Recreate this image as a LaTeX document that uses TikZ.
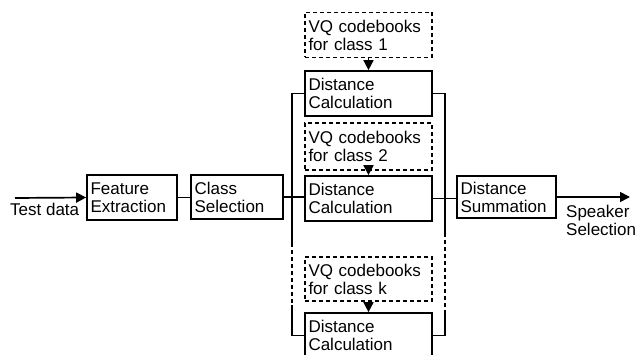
\documentclass[tikz,border=0pt]{standalone}
\usepackage{fontspec}
\setmainfont{Liberation Sans}
\usetikzlibrary{arrows.meta}
\begin{document}
\begin{tikzpicture}[x=1pt,y=-1pt,
  font=\fontsize{17pt}{18pt}\selectfont,
  box/.style={draw,line width=1.7pt,inner xsep=3.5pt,inner ysep=0pt,align=left},
  vqbox/.style={draw,line width=1.3pt,dash pattern=on 4pt off 3pt,inner xsep=3.5pt,inner ysep=0pt,align=left},
  wire/.style={line width=1.7pt},
  dwire/.style={line width=1.3pt,dash pattern=on 4pt off 3pt},
  arr/.style={line width=1.7pt,-{Triangle[length=10pt,width=10pt]}}]
\useasboundingbox (0,0) rectangle (635,355);
% boxes (center, width, height)
\node[box,minimum width=90pt,minimum height=45pt,text width=83pt] (FE) at (132,197.5) {Feature\\Extraction};
\node[box,minimum width=92pt,minimum height=44pt,text width=85pt] (CS) at (237,197) {Class\\Selection};
\node[vqbox,minimum width=127pt,minimum height=45pt,text width=120pt] (VQ1) at (368.5,35) {VQ codebooks\\for class 1};
\node[box,minimum width=127pt,minimum height=45pt,text width=120pt] (DC1) at (368.5,93.5) {Distance\\Calculation};
\node[vqbox,minimum width=127pt,minimum height=47pt,text width=120pt] (VQ2) at (368.5,146.5) {VQ codebooks\\for class 2};
\node[box,minimum width=127pt,minimum height=45pt,text width=120pt] (DC2) at (368.5,198.5) {Distance\\Calculation};
\node[vqbox,minimum width=127pt,minimum height=44pt,text width=120pt] (VQk) at (368.5,279) {VQ codebooks\\for class k};
\node[box,minimum width=127pt,minimum height=45pt,text width=120pt] (DCk) at (368.5,335.5) {Distance\\Calculation};
\node[box,minimum width=99pt,minimum height=42pt,text width=92pt] (DS) at (506.5,197) {Distance\\Summation};
% labels
\node[anchor=base west,inner sep=0pt] (TD) at (10,216) {Test data};
\node[anchor=north west,inner sep=0pt,align=left] (SS) at (566,205) {Speaker\\Selection};
% coordinates
\coordinate (in) at (15,198);
\coordinate (out) at (630,197);
\coordinate (lbT) at (292,93.5);
\coordinate (lbA) at (292,243);
\coordinate (lbB) at (292,305);
\coordinate (lbE) at (292,335.5);
\coordinate (rbT) at (445,93.5);
\coordinate (rbA) at (445,233);
\coordinate (rbB) at (445,310);
\coordinate (rbE) at (445,335.5);
% connectors
\draw[arr] (in) -- (FE.west);
\draw[wire] (FE.east) -- (FE.east -| CS.west);
\draw[wire] (CS.east) -- (CS.east -| DC2.west);
\draw[wire] (DC2.east) -- (DC2.east -| DS.west);
\draw[arr] (DS.east) -- (DS.east -| out);
\draw[arr] (VQ1.south) -- (DC1.north);
\draw[arr] (VQ2.south) -- (DC2.north);
\draw[arr] (VQk.south) -- (DCk.north);
% buses
\draw[wire] (DC1.west) -- (lbT) -- (lbA);
\draw[dwire] (lbA) -- (lbB);
\draw[wire] (lbB) -- (lbE) -- (DCk.west);
\draw[wire] (DC1.east) -- (rbT) -- (rbA);
\draw[dwire] (rbA) -- (rbB);
\draw[wire] (rbB) -- (rbE) -- (DCk.east);
\end{tikzpicture}
\end{document}
